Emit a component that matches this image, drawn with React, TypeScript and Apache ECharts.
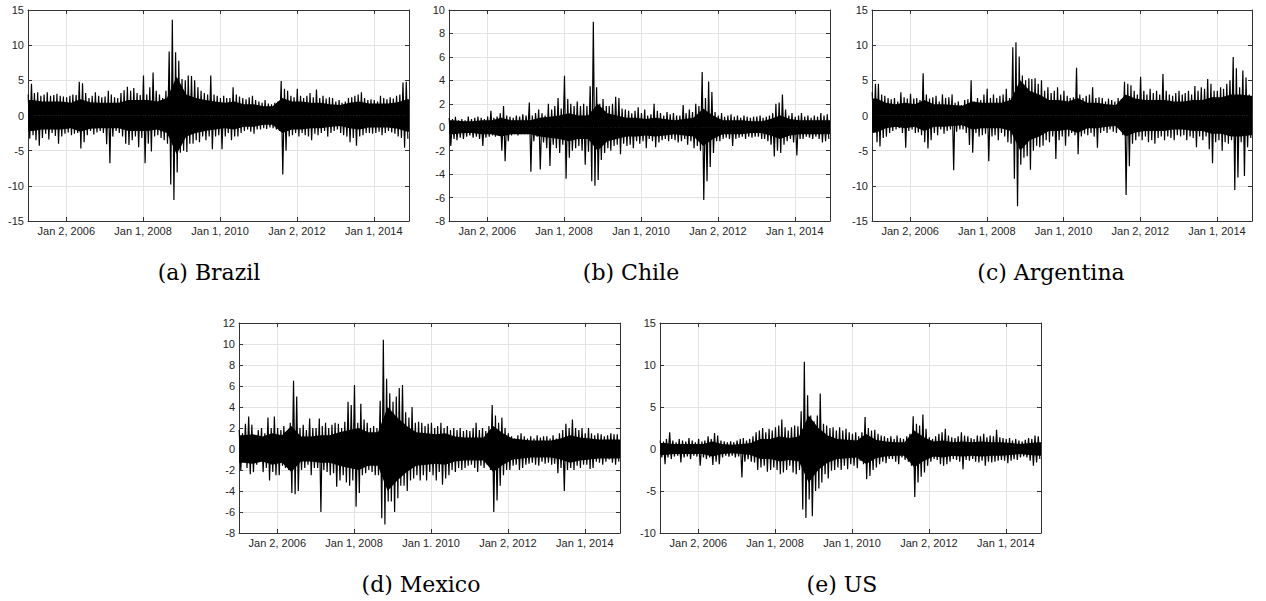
import React, { useEffect, useRef } from "react";
import * as echarts from "echarts";

// ---------- tick labels ----------
const tickDates = ["2006-01-02", "2008-01-01", "2010-01-01", "2012-01-02", "2014-01-01"];
const tickLabels = ["Jan 2, 2006", "Jan 1, 2008", "Jan 1, 2010", "Jan 2, 2012", "Jan 1, 2014"];
const tickLabelsMexico = ["Jan 2, 2006", "Jan 1, 2008", "Jan 1. 2010", "Jan 2, 2012", "Jan 1, 2014"];

// ---------- monthly high / low extremes (Jan 2005 .. Nov 2014) ----------
const brazilHigh = [
  3.0, 4.5, 3.2, 3.3, 2.8, 3.0, 3.3, 2.8, 2.9, 3.1, 2.8, 2.7,
  2.6, 2.8, 3.0, 2.9, 4.8, 4.6, 3.2, 2.5, 2.8, 3.3, 2.8, 2.6,
  2.7, 3.5, 3.0, 2.6, 2.5, 3.2, 3.6, 4.1, 3.5, 3.9, 3.2, 2.9,
  5.7, 3.0, 4.0, 6.1, 3.5, 3.0, 2.5, 3.5, 9.1, 13.6, 9.0, 7.8,
  5.2, 5.0, 5.7, 5.6, 5.0, 4.0, 3.5, 3.2, 3.0, 5.7, 3.0, 2.8,
  2.5, 2.8, 2.5, 2.5, 4.0, 3.0, 2.7, 2.5, 2.3, 2.6, 2.8, 2.2,
  2.0, 1.8, 2.2, 1.7, 1.6, 1.8, 2.0, 4.9, 3.8, 3.5, 2.8, 2.6,
  3.8, 2.8, 2.5, 2.8, 3.2, 2.6, 3.7, 2.5, 2.8, 2.4, 2.6, 2.5,
  2.0, 2.2, 1.8, 2.0, 2.5, 2.6, 2.8, 3.0, 3.3, 2.5, 2.2, 2.3,
  2.2, 2.0, 2.8, 2.5, 2.3, 2.6, 2.4, 2.8, 3.0, 4.7, 4.8,
];
const brazilLow = [
  -3.3, -2.8, -3.5, -4.3, -3.2, -2.6, -3.4, -2.5, -2.9, -4.0, -3.0, -2.6,
  -2.4, -2.8, -2.6, -2.5, -4.7, -3.8, -2.8, -2.2, -2.7, -2.4, -2.2, -2.5,
  -4.1, -6.8, -3.0, -2.2, -2.5, -3.0, -4.0, -4.2, -3.5, -3.0, -4.5, -3.2,
  -6.8, -4.0, -5.1, -3.0, -2.8, -3.2, -3.5, -4.0, -9.8, -12.0, -8.1, -5.3,
  -5.0, -5.2, -4.0, -4.0, -3.5, -3.8, -3.0, -3.5, -3.0, -4.8, -3.0, -2.8,
  -4.8, -3.0, -2.5, -3.5, -3.0, -3.0, -2.5, -2.2, -2.0, -2.3, -2.6, -2.0,
  -2.0, -1.8, -1.9, -1.7, -1.8, -2.0, -2.2, -8.4, -5.0, -3.0, -2.8, -2.5,
  -3.0, -2.5, -2.8, -3.0, -3.5, -2.6, -2.8, -2.5, -2.2, -3.0, -2.5, -2.2,
  -2.0, -2.5, -2.8, -3.0, -3.8, -3.2, -4.3, -3.0, -2.8, -2.5, -2.5, -2.6,
  -2.5, -2.3, -2.8, -2.5, -2.2, -2.4, -2.6, -3.0, -3.2, -4.6, -3.3,
];

const chileHigh = [
  0.8, 0.7, 0.9, 0.6, 0.7, 0.6, 0.9, 0.7, 0.8, 0.9, 0.8, 0.7,
  0.9, 1.4, 0.8, 0.9, 1.2, 1.8, 1.0, 0.9, 0.8, 1.0, 0.9, 1.1,
  1.0, 2.1, 1.0, 1.2, 1.5, 1.2, 1.0, 2.0, 1.5, 1.8, 2.5, 1.6,
  4.4, 2.4, 2.0, 1.8, 2.2, 1.8, 2.0, 1.8, 3.5, 9.0, 3.4, 2.0,
  2.4, 1.8, 1.8, 2.0, 2.6, 2.5, 1.6, 1.5, 1.4, 1.2, 1.4, 1.7,
  1.2, 1.5, 1.0, 1.1, 2.0, 1.4, 1.2, 1.0, 1.3, 1.1, 1.2, 1.0,
  1.0, 1.9, 1.2, 1.5, 1.3, 2.0, 1.8, 4.7, 2.5, 3.9, 3.0, 1.3,
  1.0, 1.2, 0.9, 1.0, 1.1, 0.9, 1.0, 0.8, 1.0, 0.9, 0.8, 0.9,
  0.9, 1.0, 0.8, 0.9, 1.0, 1.2, 2.0, 2.1, 2.8, 1.5, 1.0, 1.2,
  0.9, 1.0, 1.2, 0.9, 1.0, 0.8, 1.0, 0.9, 1.2, 1.0, 1.1,
];
const chileLow = [
  -1.6, -1.0, -1.1, -0.9, -1.0, -0.8, -0.7, -0.9, -0.8, -1.0, -1.6, -0.9,
  -0.8, -0.7, -0.8, -0.7, -2.0, -2.9, -1.2, -0.7, -0.6, -0.7, -0.6, -0.6,
  -0.6, -3.8, -1.2, -0.8, -3.6, -1.3, -1.8, -3.3, -1.5, -1.8, -2.2, -1.5,
  -4.4, -2.6, -2.0, -1.8, -1.6, -2.0, -3.2, -2.1, -4.6, -5.0, -4.5, -2.8,
  -2.2, -1.8, -2.0, -1.6, -1.5, -2.3, -1.4, -1.6, -1.5, -1.8, -1.2, -1.4,
  -1.2, -1.8, -1.0, -1.2, -1.7, -1.3, -1.1, -1.0, -1.2, -1.0, -1.1, -1.3,
  -1.2, -1.0, -1.5, -1.2, -1.8, -1.6, -2.0, -6.2, -4.6, -3.4, -2.2, -1.2,
  -1.2, -1.0, -0.9, -1.0, -1.6, -1.0, -0.9, -0.8, -1.0, -0.8, -0.9, -0.8,
  -0.8, -1.0, -1.0, -1.2, -1.5, -2.5, -2.0, -2.2, -1.5, -1.2, -1.0, -1.3,
  -2.4, -1.0, -1.0, -0.8, -0.9, -1.0, -0.8, -1.0, -1.3, -1.2, -1.0,
];

const argentinaHigh = [
  3.3, 4.5, 4.5, 3.0, 2.8, 2.5, 2.3, 2.5, 2.0, 3.3, 2.6, 2.4,
  3.1, 2.4, 2.5, 2.2, 6.0, 3.0, 2.4, 2.6, 2.8, 2.0, 3.0, 2.5,
  2.6, 3.0, 1.8, 2.0, 1.5, 2.2, 2.3, 5.0, 2.0, 2.5, 2.2, 3.0,
  3.8, 2.5, 3.0, 2.5, 2.8, 3.0, 3.8, 2.5, 9.7, 10.4, 8.4, 5.7,
  5.0, 5.3, 5.2, 5.3, 4.5, 5.0, 3.5, 4.0, 3.2, 3.5, 4.0, 3.0,
  3.5, 2.8, 2.5, 2.6, 6.8, 3.0, 2.5, 2.8, 3.0, 4.0, 2.5, 2.6,
  2.5, 2.0, 2.4, 2.2, 2.0, 2.5, 2.3, 4.8, 4.5, 4.3, 3.5, 3.0,
  5.5, 3.5, 3.0, 3.8, 3.2, 3.5, 3.0, 5.9, 3.5, 3.0, 2.8, 3.2,
  3.5, 3.0, 3.2, 3.5, 3.0, 4.2, 3.5, 4.0, 3.8, 5.2, 4.5, 3.5,
  3.5, 4.0, 3.8, 4.5, 5.0, 8.3, 6.7, 4.0, 6.4, 5.4, 3.0,
];
const argentinaLow = [
  -2.5, -3.8, -4.4, -3.2, -3.0, -2.5, -2.2, -2.0, -1.8, -2.5, -4.6, -2.2,
  -2.0, -2.5, -2.4, -2.8, -3.8, -4.7, -3.5, -2.5, -2.8, -2.0, -2.6, -2.2,
  -2.0, -7.8, -2.3, -2.0, -2.0, -2.5, -4.2, -5.3, -2.5, -3.0, -2.8, -2.6,
  -6.5, -3.0, -2.8, -3.5, -2.5, -3.0, -3.8, -4.0, -9.0, -12.9, -7.0, -6.0,
  -5.8, -7.7, -5.0, -4.3, -4.5, -4.3, -3.5, -3.8, -3.0, -6.2, -3.5, -3.0,
  -4.3, -3.0, -2.5, -2.8, -5.5, -3.0, -2.6, -2.8, -2.5, -3.0, -4.6, -2.5,
  -2.2, -2.5, -2.0, -2.3, -2.5, -2.0, -2.8, -11.3, -7.2, -4.0, -3.5, -3.0,
  -3.5, -3.0, -3.8, -3.5, -4.0, -3.2, -3.0, -3.5, -3.0, -3.2, -3.5, -2.8,
  -3.0, -2.8, -3.5, -3.0, -3.2, -4.5, -3.0, -3.5, -3.0, -4.8, -6.8, -3.8,
  -3.5, -5.0, -3.8, -4.0, -3.5, -10.6, -8.8, -3.8, -8.6, -4.5, -3.2,
];

const mexicoHigh = [
  1.8, 1.5, 2.4, 3.1, 2.3, 1.3, 1.8, 2.0, 1.5, 3.0, 2.0, 3.1,
  2.0, 1.8, 2.2, 1.6, 2.5, 6.5, 5.0, 2.0, 2.3, 1.8, 2.9, 2.0,
  2.0, 2.9, 2.2, 2.5, 2.0, 2.3, 2.5, 2.4, 2.0, 2.6, 4.5, 4.2,
  6.1, 2.5, 4.3, 2.8, 2.5, 2.0, 2.2, 2.0, 4.6, 10.4, 6.7, 5.3,
  4.5, 5.0, 5.8, 6.1, 3.5, 3.0, 4.0, 2.5, 2.6, 2.5, 2.2, 2.4,
  2.5, 2.0, 2.2, 2.5, 2.0, 2.2, 1.8, 2.0, 1.8, 2.0, 1.7, 1.8,
  1.7, 2.0, 2.5, 1.8, 2.0, 1.7, 2.2, 4.2, 3.2, 2.5, 3.0, 2.0,
  1.5, 1.2, 1.0, 1.3, 1.5, 1.2, 1.0, 1.2, 1.0, 1.3, 1.1, 1.2,
  1.2, 1.0, 1.3, 1.0, 1.5, 1.8, 2.4, 2.0, 2.8, 2.0, 1.8, 2.0,
  1.5, 2.0, 1.5, 1.3, 1.5, 1.4, 1.2, 1.3, 1.5, 1.4, 1.4,
];
const mexicoLow = [
  -2.0, -0.8, -1.8, -2.4, -2.2, -1.5, -1.2, -2.2, -1.8, -3.0, -2.2, -2.5,
  -2.5, -1.6, -1.8, -2.0, -4.2, -4.3, -4.0, -2.0, -1.8, -1.5, -2.5, -1.8,
  -1.8, -6.0, -2.0, -2.2, -2.5, -2.3, -3.6, -3.0, -2.5, -3.2, -3.5, -3.0,
  -5.5, -4.2, -2.5, -2.3, -2.0, -2.2, -2.5, -2.5, -6.6, -7.2, -5.0, -5.0,
  -6.0, -4.7, -3.5, -3.5, -4.0, -3.0, -2.8, -2.5, -3.0, -2.5, -3.0, -2.2,
  -2.5, -3.0, -2.2, -3.4, -2.8, -2.5, -2.0, -2.2, -1.8, -2.0, -1.8, -1.6,
  -1.5, -1.8, -2.2, -1.6, -1.8, -1.5, -2.0, -6.0, -4.9, -3.5, -2.5, -2.0,
  -2.0, -1.6, -1.5, -2.0, -1.8, -1.5, -1.4, -1.3, -1.5, -1.6, -1.2, -1.4,
  -1.3, -1.5, -1.4, -2.3, -1.8, -4.0, -2.0, -1.8, -2.0, -1.6, -1.8, -1.5,
  -1.5, -1.9, -1.8, -1.2, -1.3, -1.5, -1.2, -1.0, -1.3, -1.5, -1.2,
];

const usHigh = [
  1.0, 0.9, 1.2, 2.0, 1.0, 0.8, 1.2, 1.0, 0.9, 1.3, 1.0, 0.8,
  1.2, 0.9, 1.0, 1.5, 1.2, 1.9, 1.6, 1.0, 0.9, 0.8, 0.9, 0.8,
  1.0, 1.2, 1.3, 1.0, 1.2, 1.5, 2.0, 2.2, 2.5, 2.0, 2.4, 2.2,
  2.6, 2.8, 3.5, 2.6, 2.2, 2.6, 2.8, 2.7, 4.5, 10.4, 6.4, 4.0,
  3.3, 4.0, 6.6, 3.0, 2.8, 2.5, 2.6, 2.2, 2.6, 2.2, 2.4, 2.0,
  1.8, 2.0, 1.5, 2.0, 3.8, 2.5, 2.2, 2.3, 1.8, 1.6, 1.5, 1.3,
  1.5, 1.2, 1.6, 1.3, 1.2, 1.5, 1.8, 3.9, 3.0, 2.8, 4.1, 2.4,
  1.4, 1.2, 1.5, 1.8, 2.0, 2.4, 1.6, 1.4, 1.3, 1.5, 2.0, 1.6,
  1.5, 1.3, 1.2, 1.6, 1.5, 1.8, 1.4, 1.6, 1.5, 2.3, 1.4, 1.3,
  1.2, 1.3, 1.0, 1.2, 1.0, 0.9, 1.1, 1.3, 1.2, 1.6, 1.5,
];
const usLow = [
  -1.0, -1.8, -1.0, -1.2, -0.9, -0.8, -1.6, -1.0, -0.9, -1.2, -0.8, -0.9,
  -2.0, -1.0, -1.2, -1.0, -1.9, -1.5, -1.8, -1.0, -0.8, -0.9, -0.8, -1.0,
  -0.9, -3.4, -1.5, -1.2, -1.5, -1.6, -2.5, -2.2, -2.0, -2.7, -2.5, -2.2,
  -2.5, -3.0, -2.8, -2.5, -2.0, -2.8, -3.0, -2.5, -7.2, -8.2, -6.0, -8.0,
  -5.0, -4.7, -4.0, -3.0, -3.5, -2.6, -2.5, -2.2, -2.5, -2.0, -2.4, -1.8,
  -2.0, -2.3, -1.4, -1.8, -3.6, -3.2, -2.5, -2.2, -1.8, -1.5, -1.7, -1.2,
  -1.2, -1.5, -1.8, -1.0, -1.3, -1.5, -2.0, -5.7, -4.0, -3.3, -2.8, -2.0,
  -1.5, -1.2, -1.3, -1.8, -2.0, -1.8, -1.5, -1.2, -1.3, -1.5, -2.4, -1.3,
  -1.4, -1.2, -1.5, -1.6, -1.4, -2.0, -1.5, -1.6, -1.5, -1.4, -1.3, -1.4,
  -1.7, -1.4, -1.2, -1.3, -1.0, -0.9, -1.0, -1.4, -2.0, -1.6, -1.2,
];

// ---------- quarterly half-width of the solid dense core (Q1 2005 .. Q4 2014) ----------
const brazilCore = [
  2.2, 2.0, 2.0, 2.0, 1.8, 2.3, 1.9, 1.8, 1.8, 1.8, 2.2, 2.2, 2.2, 2.0, 2.5, 5.5, 3.0, 2.5, 2.2, 2.0,
  1.8, 2.0, 1.6, 1.6, 1.3, 1.3, 2.5, 2.0, 2.0, 1.8, 1.8, 1.6, 1.5, 1.8, 2.0, 1.7, 1.7, 1.7, 1.9, 2.3,
];
const chileCore = [
  0.6, 0.5, 0.5, 0.6, 0.6, 0.8, 0.6, 0.6, 0.6, 0.8, 0.9, 1.0, 1.2, 1.0, 1.0, 2.0, 1.2, 1.0, 0.8, 0.8,
  0.7, 0.8, 0.7, 0.6, 0.7, 0.8, 1.6, 1.0, 0.6, 0.6, 0.6, 0.5, 0.5, 0.7, 1.0, 0.7, 0.6, 0.6, 0.6, 0.6,
];
const argentinaCore = [
  2.4, 1.8, 1.6, 1.8, 1.6, 2.2, 1.6, 1.6, 1.5, 1.4, 2.0, 1.8, 1.8, 1.8, 2.2, 5.0, 3.5, 3.0, 2.2, 2.2,
  2.0, 2.5, 1.8, 1.8, 1.6, 1.5, 3.0, 2.4, 2.2, 2.2, 2.2, 2.0, 2.0, 2.2, 2.2, 2.6, 2.6, 3.0, 3.0, 2.8,
];
const mexicoCore = [
  1.3, 1.4, 1.2, 1.5, 1.3, 2.2, 1.2, 1.2, 1.3, 1.3, 1.6, 1.8, 2.0, 1.6, 1.6, 4.0, 3.0, 2.2, 1.6, 1.5,
  1.4, 1.5, 1.2, 1.1, 1.1, 1.1, 2.2, 1.5, 1.0, 0.9, 0.8, 0.8, 0.8, 1.0, 1.3, 1.1, 1.0, 0.9, 0.9, 0.9,
];
const usCore = [
  0.7, 0.6, 0.6, 0.6, 0.6, 0.9, 0.6, 0.5, 0.6, 0.7, 1.2, 1.2, 1.5, 1.3, 1.5, 4.0, 2.5, 1.6, 1.2, 1.1,
  1.0, 1.8, 1.1, 0.9, 0.8, 0.8, 2.2, 1.4, 0.9, 1.0, 0.8, 0.9, 0.8, 0.9, 0.8, 0.8, 0.7, 0.6, 0.7, 0.8,
];

// ---------- per-panel axis ranges and captions ----------
const captions = ["(a) Brazil", "(b) Chile", "(c) Argentina", "(d) Mexico", "(e) US"];
const yMins = [-15, -8, -15, -8, -10];
const yMaxs = [15, 10, 15, 12, 15];
const ySteps = [5, 2, 5, 2, 5];

const highs = [brazilHigh, chileHigh, argentinaHigh, mexicoHigh, usHigh];
const lows = [brazilLow, chileLow, argentinaLow, mexicoLow, usLow];
const cores = [brazilCore, chileCore, argentinaCore, mexicoCore, usCore];
const labelSets = [tickLabels, tickLabels, tickLabels, tickLabelsMexico, tickLabels];

function buildSeries(hi: number[], lo: number[]): [number, number][] {
  const out: [number, number][] = [];
  for (let i = 0; i < hi.length; i++) {
    out.push([Date.UTC(2005, i, 5), hi[i]]);
    out.push([Date.UTC(2005, i, 20), lo[i]]);
  }
  return out;
}

function buildCore(core: number[], sign: number, xMin: number, xMax: number): [number, number][] {
  const out: [number, number][] = [[xMin, sign * core[0]]];
  core.forEach((c, j) => out.push([Date.UTC(2005, 1 + 3 * j, 15), sign * c]));
  out.push([xMax, sign * core[core.length - 1]]);
  return out;
}

export default function App() {
  const ref = useRef<HTMLDivElement>(null);

  useEffect(() => {
    if (!ref.current) return;
    const chart = echarts.init(ref.current, undefined, { renderer: "svg" });

    const layout = [
      { left: 28, top: 10, width: 381, height: 211, cx: 209, cy: 272 },
      { left: 449, top: 10, width: 381, height: 211, cx: 631, cy: 272 },
      { left: 872, top: 10, width: 380, height: 211, cx: 1051, cy: 272 },
      { left: 239, top: 323, width: 381, height: 210, cx: 421, cy: 584 },
      { left: 660, top: 323, width: 381, height: 210, cx: 842, cy: 584 },
    ];

    const xMin = Date.UTC(2005, 0, 3);
    const xMax = Date.UTC(2014, 11, 1);
    const tickTimes = tickDates.map((d) => Date.parse(d));
    const axisColor = "#333333";
    const gridColor = "#e3e3e3";
    const labelColor = "#262626";

    const grids: any[] = [];
    const xAxes: any[] = [];
    const yAxes: any[] = [];
    const series: any[] = [];
    const graphics: any[] = [];

    layout.forEach((p, k) => {
      grids.push({
        left: p.left,
        top: p.top,
        width: p.width,
        height: p.height,
        containLabel: false,
        outerBoundsMode: "none",
      });
      const labels = labelSets[k];
      xAxes.push({
        type: "value",
        gridIndex: k,
        position: "bottom",
        min: xMin,
        max: xMax,
        axisLine: { show: true, onZero: false, lineStyle: { color: axisColor, width: 1 } },
        axisTick: { show: true, inside: true, length: 4, customValues: tickTimes, lineStyle: { color: axisColor } },
        axisLabel: {
          show: true,
          customValues: tickTimes,
          formatter: (v: number) => {
            const idx = tickTimes.indexOf(v);
            return idx >= 0 ? labels[idx] : "";
          },
          color: labelColor,
          fontSize: 11,
          fontFamily: "Liberation Sans, Arial, sans-serif",
          margin: 4,
        },
        splitLine: { show: true, lineStyle: { color: gridColor, width: 1 } },
      });
      xAxes.push({
        type: "value",
        gridIndex: k,
        position: "top",
        min: xMin,
        max: xMax,
        axisLine: { show: true, onZero: false, lineStyle: { color: axisColor, width: 1 } },
        axisTick: { show: true, inside: true, length: 4, customValues: tickTimes, lineStyle: { color: axisColor } },
        axisLabel: { show: false },
        splitLine: { show: false },
      });
      yAxes.push({
        type: "value",
        gridIndex: k,
        position: "left",
        min: yMins[k],
        max: yMaxs[k],
        interval: ySteps[k],
        axisLine: { show: true, onZero: false, lineStyle: { color: axisColor, width: 1 } },
        axisTick: { show: true, inside: true, length: 4, lineStyle: { color: axisColor } },
        axisLabel: {
          color: labelColor,
          fontSize: 11,
          fontFamily: "Liberation Sans, Arial, sans-serif",
          margin: 4,
        },
        splitLine: { show: true, lineStyle: { color: gridColor, width: 1 } },
      });
      yAxes.push({
        type: "value",
        gridIndex: k,
        position: "right",
        min: yMins[k],
        max: yMaxs[k],
        interval: ySteps[k],
        axisLine: { show: true, onZero: false, lineStyle: { color: axisColor, width: 1 } },
        axisTick: { show: true, inside: true, length: 4, lineStyle: { color: axisColor } },
        axisLabel: { show: false },
        splitLine: { show: false },
      });
      [1, -1].forEach((sign) => {
        series.push({
          type: "line",
          xAxisIndex: 2 * k,
          yAxisIndex: 2 * k,
          data: buildCore(cores[k], sign, xMin, xMax),
          showSymbol: false,
          symbol: "none",
          silent: true,
          clip: true,
          lineStyle: { width: 0, color: "#000000" },
          areaStyle: { color: "#000000", opacity: 1, origin: 0 },
          emphasis: { disabled: true },
        });
      });
      series.push({
        type: "line",
        xAxisIndex: 2 * k,
        yAxisIndex: 2 * k,
        data: buildSeries(highs[k], lows[k]),
        showSymbol: false,
        symbol: "none",
        silent: true,
        clip: true,
        lineStyle: { color: "#000000", width: 1.2 },
        emphasis: { disabled: true },
      });
      graphics.push({
        type: "text",
        x: p.cx,
        y: p.cy,
        style: {
          text: captions[k],
          fill: "#000000",
          font: '22px "DejaVu Serif", serif',
          textAlign: "center",
          textVerticalAlign: "middle",
          align: "center",
          verticalAlign: "middle",
        },
      });
    });

    chart.setOption({
      animation: false,
      backgroundColor: "#ffffff",
      grid: grids,
      xAxis: xAxes,
      yAxis: yAxes,
      series,
      graphic: graphics,
    });

    return () => chart.dispose();
  }, []);

  return (
    <div
      ref={ref}
      style={{ position: "absolute", left: 0, top: 0, width: 1266, height: 601, background: "#fff" }}
    />
  );
}
